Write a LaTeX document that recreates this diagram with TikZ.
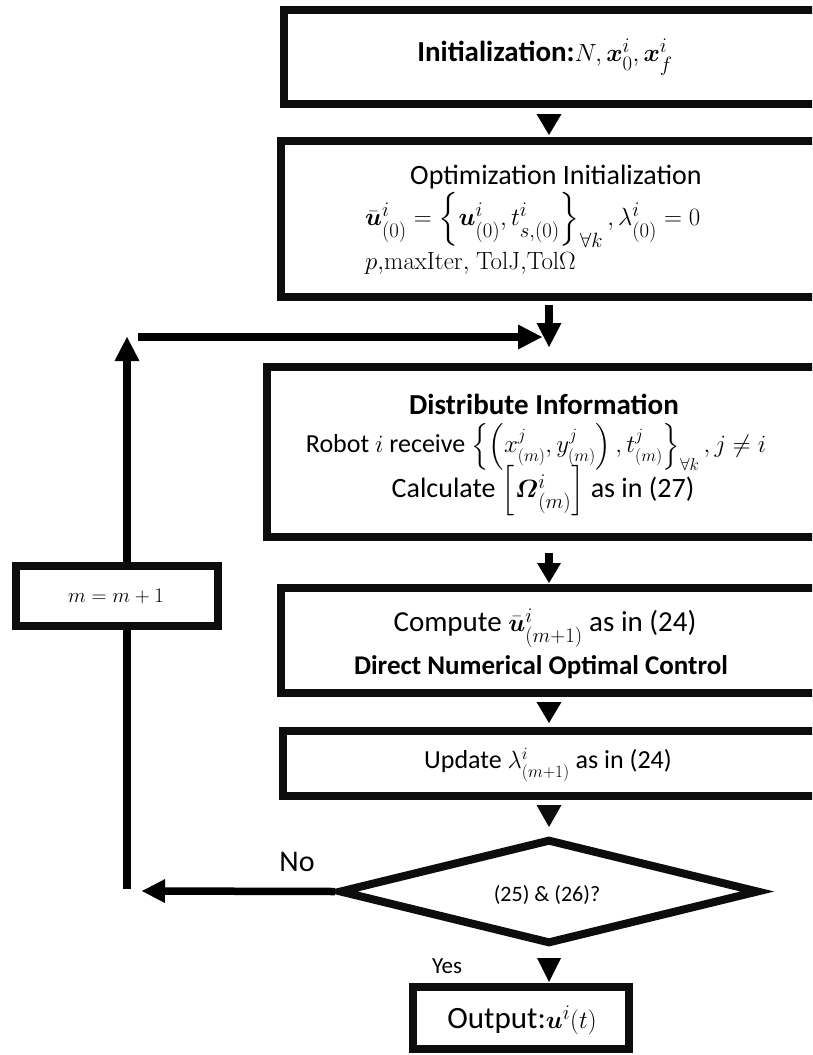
\documentclass[tikz,border=0pt]{standalone}
\usepackage{amsmath,amssymb}
\usepackage[no-math]{fontspec}
\setmainfont{Carlito}
\usetikzlibrary{arrows.meta,shapes.geometric}
\newcommand{\fs}[1]{\fontsize{#1}{#1}\selectfont}
\tikzset{
  box/.style={draw=black!95, line width=8pt, inner sep=0pt},
  txt/.style={inner sep=0pt, anchor=center},
  tri/.style={line width=0.5pt, -{Triangle[width=25pt,length=21pt,line width=0pt]}},
  flow/.style={line width=7.5pt, -{Triangle[width=25pt,length=24pt,line width=0pt]}},
  plain/.style={line width=7.5pt},
  head/.style={fill=black!95, draw=none}
}
\begin{document}
\begin{tikzpicture}[x=1pt,y=-1pt]
\useasboundingbox (0,0) rectangle (812,1055);
\fill[white] (0,0) rectangle (812,1055);
\clip (0,0) rectangle (812,1055);
% axis coordinates
\coordinate (axis) at (549,0);
\coordinate (vbot) at (127,889);
\coordinate (vtop) at (127,337);
\coordinate (hstart) at (138,337);
\coordinate (hend) at (542,337);
\coordinate (ntip) at (142,891);
\coordinate (dbl) at (536.5,805);
\coordinate (dbr) at (561.5,805);
\coordinate (dtop) at (549,827);
% boxes
\node[box, minimum width=566pt, minimum height=94pt] (b1) at (567,57) {};
\node[box, minimum width=569pt, minimum height=156pt] (b2) at (565.5,219) {};
\node[box, minimum width=583pt, minimum height=170pt] (b3) at (558.5,452) {};
\node[box, minimum width=569pt, minimum height=105pt] (b4) at (565.5,640.5) {};
\node[box, minimum width=567pt, minimum height=65pt] (b5) at (566.5,763.5) {};
\node[box, line width=7.5pt, minimum width=202pt, minimum height=60pt] (mb) at (117,596) {};
\node[box, diamond, minimum width=420pt, minimum height=105pt] (dec) at (549,891.5) {};
\node[box, minimum width=216pt, minimum height=62pt] (out) at (521,1018) {};
% texts
\node[txt] (t1) at (545,57) {\fs{29}\textbf{Initialization:}$N,\boldsymbol{x}_0^i,\boldsymbol{x}_f^i$};
\node[txt] (t2a) at (556,177) {\fs{28}Optimization Initialization};
\node[txt, anchor=west] (t2b) at (365,220) {\fs{30}$\bar{\boldsymbol{u}}^i_{(0)}=\left\{\boldsymbol{u}^i_{(0)},t^i_{s,(0)}\right\}_{\forall k},\lambda^i_{(0)}=0$};
\node[txt, anchor=west] (t2c) at (365,263) {\fs{29}$p{,}\mathrm{maxIter}{,}\ \mathrm{TolJ}{,}\mathrm{Tol}\Omega$};
\node[txt] (t3a) at (544,404) {\fs{29}\textbf{Distribute Information}};
\node[txt] (t3b) at (536,447) {\fs{26}Robot $i$ receive $\left\{\left(x^j_{(m)},y^j_{(m)}\right),t^j_{(m)}\right\}_{\forall k},j\neq i$};
\node[txt] (t3c) at (543,491) {\fs{28}Calculate $\left[\boldsymbol{\varOmega}^i_{(m)}\right]$ as in (27)};
\node[txt] (t4a) at (545,628) {\fs{29}Compute $\bar{\boldsymbol{u}}^i_{(m+1)}$ as in (24)};
\node[txt] (t4b) at (541,667) {\fs{27}\textbf{Direct Numerical Optimal Control}};
\node[txt] (t5) at (548,765) {\fs{26}Update $\lambda^i_{(m+1)}$ as in (24)};
\node[txt] (td) at (547,895) {\fs{22}(25) \& (26)?};
\node[txt] (tm) at (116,596) {\fs{22}$m=m+1$};
\node[txt] (tno) at (297,862) {\fs{30}No};
\node[txt] (tyes) at (447,966) {\fs{23}Yes};
\node[txt] (tout) at (522,1020) {\fs{31}Output:$\boldsymbol{u}^i(t)$};
% connectors
\draw[tri, shorten <=7pt, shorten >=2pt] (b1.south -| axis) -- (b2.north -| axis);
\draw[flow, shorten <=4pt, shorten >=16pt] (b2.south -| axis) -- (b3.north -| axis);
\draw[flow, -{Triangle[width=24pt,length=20pt,line width=0pt]}, shorten <=12pt, shorten >=1pt] (b3.south -| axis) -- (b4.north -| axis);
\draw[tri, shorten <=5pt, shorten >=4pt] (b4.south -| axis) -- (b5.north -| axis);
\fill[head] (dbl) -- (dbr) -- (dtop) -- cycle;
\draw[tri, -{Triangle[width=24pt,length=24pt,line width=0pt]}, shorten <=11pt, shorten >=1pt] (dec.south) -- (out.north -| dec.south);
\draw[flow, -{Triangle[width=24pt,length=23pt,line width=0pt]}] (dec.west) -- (ntip);
\draw[plain] (vbot) -- (mb.south -| vbot);
\draw[flow] (mb.north -| vbot) -- (vtop);
\draw[flow] (hstart) -- (hend);
\end{tikzpicture}
\end{document}
